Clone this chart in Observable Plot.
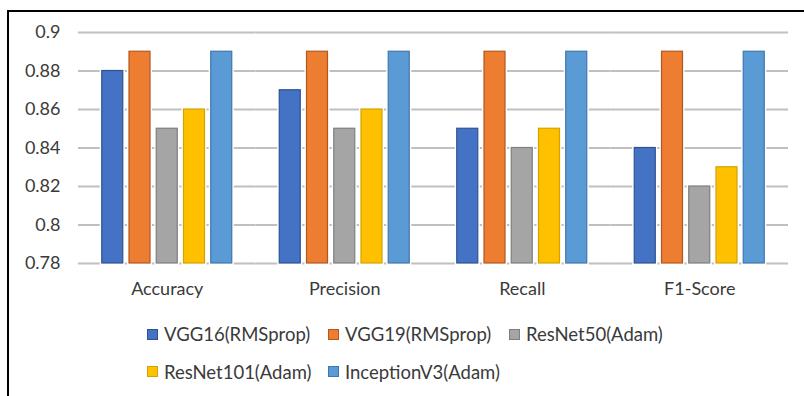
<!DOCTYPE html>
<html>
<head>
<meta charset="utf-8">
<script src="https://cdn.jsdelivr.net/npm/d3@7"></script>
<script src="https://cdn.jsdelivr.net/npm/@observablehq/plot@0.6"></script>
<style>
  html, body { margin: 0; padding: 0; background: #fff; }
  body { width: 804px; height: 396px; position: relative; overflow: hidden; font-family: Lato, "Open Sans", sans-serif; }
  #frame { position: absolute; left: 7px; top: 10px; right: -10px; bottom: -10px; border-left: 2px solid #000; border-top: 2px solid #000; }
  #chart { position: absolute; left: 0; top: 0; }
  #legend { position: absolute; left: 147px; top: 0; width: 580px; height: 396px; }
  .item { position: absolute; display: flex; align-items: center; white-space: nowrap; color: #3a3a3a; font-size: 18.5px; }
  .sw { width: 9px; height: 9px; margin-right: 6px; border: 1px solid; }
</style>
</head>
<body>
<div id="frame"></div>
<div id="chart"></div>
<div id="legend"></div>
<script>
// Metrics along the x axis and the five models compared in each
const categories = ["Accuracy", "Precision", "Recall", "F1-Score"];
const models = ["VGG16(RMSprop)", "VGG19(RMSprop)", "ResNet50(Adam)", "ResNet101(Adam)", "InceptionV3(Adam)"];

// Scores per model, in the order of the categories
const vgg16 = [0.88, 0.87, 0.85, 0.84];
const vgg19 = [0.89, 0.89, 0.89, 0.89];
const resnet50 = [0.85, 0.85, 0.84, 0.82];
const resnet101 = [0.86, 0.86, 0.85, 0.83];
const inceptionV3 = [0.89, 0.89, 0.89, 0.89];

const yTicks = [0.78, 0.8, 0.82, 0.84, 0.86, 0.88, 0.9];

const fills = ["#4472C4", "#ED7D31", "#A5A5A5", "#FFC000", "#5B9BD5"];
const strokes = ["#2F528F", "#B4571F", "#7E7E7E", "#D6A200", "#3E76AE"];

const series = [vgg16, vgg19, resnet50, resnet101, inceptionV3];
const table = [];
categories.forEach((metric, i) => {
  models.forEach((model, j) => {
    table.push({metric, model, value: series[j][i]});
  });
});

const chart = Plot.plot({
  width: 804,
  height: 300,
  marginLeft: 78,
  marginRight: 16,
  marginTop: 32,
  marginBottom: 37,
  style: {fontFamily: "Lato, 'Open Sans', sans-serif", fontSize: "18px", color: "#3a3a3a", background: "transparent", overflow: "visible"},
  facet: {data: table, x: "metric"},
  fx: {domain: categories, paddingInner: 0, paddingOuter: 0, round: false, axis: "bottom", tickSize: 0, tickPadding: 19, label: null},
  x: {domain: models, paddingInner: 0.229, paddingOuter: 0.872, round: false, axis: null},
  y: {domain: [0.78, 0.9], ticks: yTicks, tickSize: 0, tickPadding: 18, label: null, tickFormat: d => String(+d.toFixed(2))},
  color: {domain: models, range: fills},
  marks: [
    Plot.ruleY(yTicks, {stroke: "#C0C0C0", strokeWidth: 1.8}),
    Plot.barY(table, {x: "model", y1: 0.78, y2: "value", fill: "#fff", stroke: "#fff", strokeWidth: 4}),
    Plot.barY(table, {x: "model", y1: 0.78, y2: "value", fill: "model",
      stroke: d => strokes[models.indexOf(d.model)], strokeWidth: 1.2})
  ]
});
document.getElementById("chart").appendChild(chart);

// Two-row legend below the plot
const legend = document.getElementById("legend");
const colLeft = [0, 181, 362];
const rowTop = [334, 371.5];
models.forEach((m, i) => {
  const row = i < 3 ? 0 : 1;
  const col = i < 3 ? i : i - 3;
  const item = document.createElement("div");
  item.className = "item";
  item.style.left = colLeft[col] + "px";
  item.style.top = (rowTop[row] - 12) + "px";
  item.style.height = "24px";
  const sw = document.createElement("span");
  sw.className = "sw";
  sw.style.background = fills[i];
  sw.style.borderColor = strokes[i];
  const label = document.createElement("span");
  label.textContent = m;
  item.appendChild(sw);
  item.appendChild(label);
  legend.appendChild(item);
});
</script>
</body>
</html>
